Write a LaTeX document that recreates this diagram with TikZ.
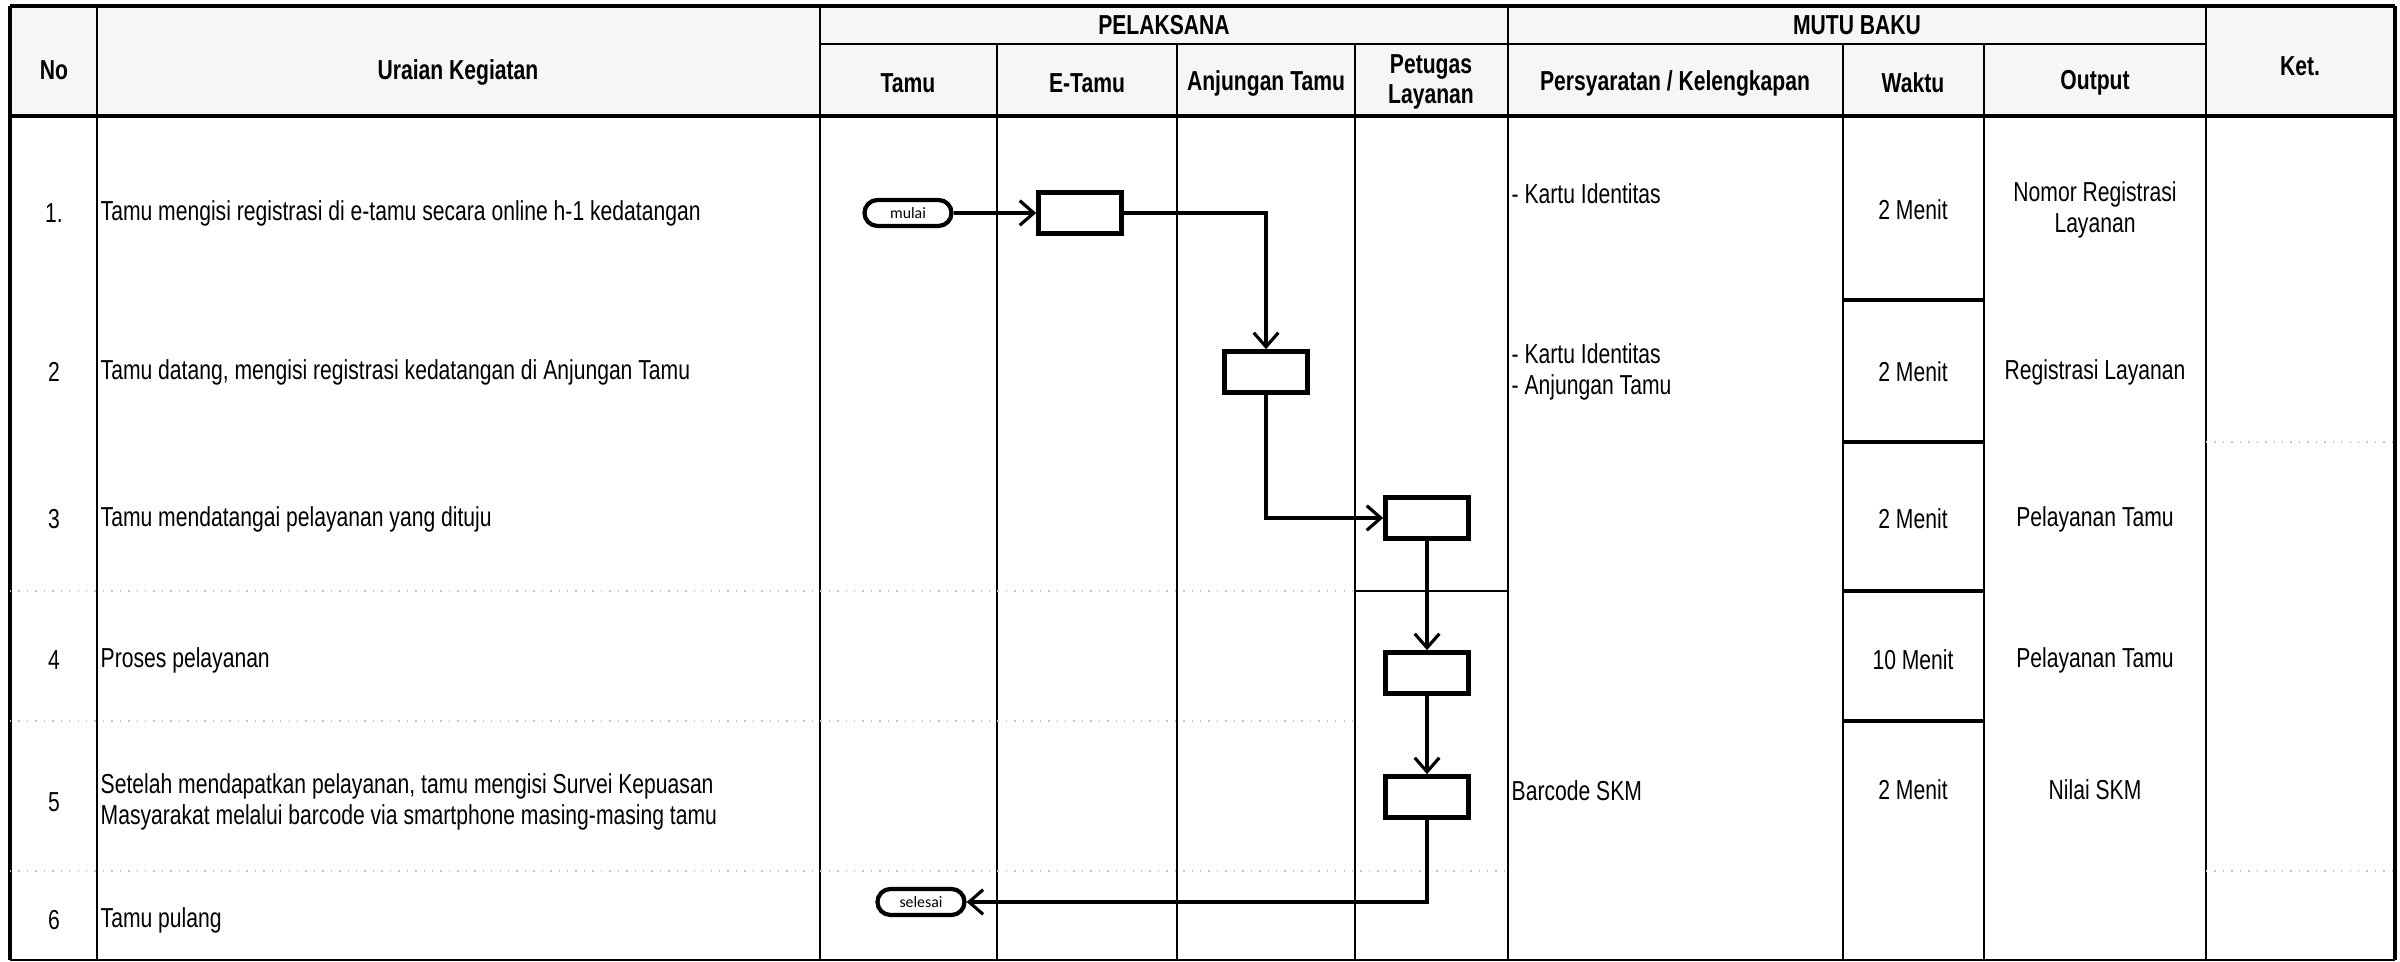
\documentclass[tikz,border=0pt]{standalone}
\usepackage{fontspec}
\setmainfont{Liberation Sans}[FakeStretch=0.77]
\newfontfamily\termfont{Carlito}
\usetikzlibrary{arrows.meta}
\tikzset{
    kotak/.style={draw, line width=1.3pt, minimum width=0.83cm, minimum height=0.41cm, inner sep=0pt},
    terminal/.style={draw, line width=1.2pt, rounded corners=0.13cm, minimum width=0.87cm, minimum height=0.26cm, inner sep=0pt, font=\termfont\fontsize{4.5}{5}\selectfont},
    alur/.style={line width=0.9pt, -{Straight Barb[length=4pt,width=7pt,line width=0.9pt]}},
    garis/.style={line width=0.7pt},
    titik/.style={gray!45, dotted, line width=0.4pt},
    kepala/.style={font=\fontsize{7.8}{8.6}\selectfont\bfseries, align=center},
    kiri/.style={anchor=west, inner xsep=0pt, align=left},
}
\begin{document}
\begin{tikzpicture}[x=0.01cm, y=-0.01cm, font=\fontsize{7.8}{8.6}\selectfont]
    \useasboundingbox[fill=white] (0,0) rectangle (2400,962);
    % kepala tabel
    \fill[gray!7] (10,6) rectangle (2395,116);
    \draw[line width=1.2pt] (10,6) -- (2395,6);
    \draw[line width=1.1pt] (10,116) -- (2395,116);
    \draw[garis] (820,44) -- (2206,44);
    \draw[line width=1.2pt] (10,6) -- (10,960);
    \draw[line width=1pt] (2395,6) -- (2395,960);
    \draw[garis] (10,960) -- (2395,960);
    \draw[garis] (97,6) -- (97,960) (820,6) -- (820,960) (1508,6) -- (1508,960) (2206,6) -- (2206,960);
    \draw[garis] (997,44) -- (997,960) (1177,44) -- (1177,960) (1355,44) -- (1355,960) (1843,44) -- (1843,960) (1984,44) -- (1984,960);
    % batas baris
    \draw[line width=1pt] (1843,300) -- (1984,300) (1843,442) -- (1984,442) (1843,591) -- (1984,591) (1843,721) -- (1984,721);
    \draw[garis] (1355,591) -- (1508,591);
    \draw[titik] (10,591) -- (1355,591) (10,721) -- (1355,721) (10,871) -- (1508,871) (2206,442) -- (2395,442) (2206,871) -- (2395,871);

    \node[kepala] at (54,70) {No};
    \node[kepala] at (458,72) {Uraian Kegiatan};
    \node[kepala] at (1164,25) {PELAKSANA};
    \node[kepala] at (1857,25) {MUTU BAKU};
    \node[kepala] at (2300,66) {Ket.};
    \node[kepala] at (908,83) {Tamu};
    \node[kepala] at (1087,83) {E-Tamu};
    \node[kepala] at (1266,83) {Anjungan Tamu};
    \node[kepala] at (1431,82) {Petugas\\Layanan};
    \node[kepala] at (1675,83) {Persyaratan / Kelengkapan};
    \node[kepala] at (1913,83) {Waktu};
    \node[kepala] at (2095,83) {Output};

    % nomor dan uraian
    \node at (54,213) {1.};
    \node at (54,372) {2};
    \node at (54,519) {3};
    \node at (54,660) {4};
    \node at (54,802) {5};
    \node at (54,920) {6};
    \node[kiri] at (100,213) {Tamu mengisi registrasi di e-tamu secara online h-1 kedatangan};
    \node[kiri] at (100,372) {Tamu datang, mengisi registrasi kedatangan di Anjungan Tamu};
    \node[kiri] at (100,519) {Tamu mendatangai pelayanan yang dituju};
    \node[kiri] at (100,660) {Proses pelayanan};
    \node[kiri] at (100,802) {Setelah mendapatkan pelayanan, tamu mengisi Survei Kepuasan\\Masyarakat melalui barcode via smartphone masing-masing tamu};
    \node[kiri] at (100,920) {Tamu pulang};

    % mutu baku
    \node[kiri] at (1511,194) {- Kartu Identitas};
    \node[kiri] at (1511,372) {- Kartu Identitas\\- Anjungan Tamu};
    \node[kiri] at (1511,791) {Barcode SKM};
    \node at (1913,210) {2 Menit};
    \node at (1913,372) {2 Menit};
    \node at (1913,519) {2 Menit};
    \node at (1913,660) {10 Menit};
    \node at (1913,790) {2 Menit};
    \node[align=center] at (2095,210) {Nomor Registrasi\\Layanan};
    \node at (2095,372) {Registrasi Layanan};
    \node at (2095,519) {Pelayanan Tamu};
    \node at (2095,660) {Pelayanan Tamu};
    \node at (2095,790) {Nilai SKM};

    % alur
    \node[terminal] (mulai) at (908,213) {mulai};
    \node[kotak] (k1) at (1080,213) {};
    \node[kotak] (k2) at (1266,372) {};
    \node[kotak] (k3) at (1427,518) {};
    \node[kotak] (k4) at (1427,673) {};
    \node[kotak] (k5) at (1427,797) {};
    \node[terminal] (selesai) at (921,902) {selesai};
    \draw[alur] (mulai) -- (k1);
    \draw[alur] (k1) -| (k2);
    \draw[alur] (k2) |- (k3);
    \draw[alur] (k3) -- (k4);
    \draw[alur] (k4) -- (k5);
    \draw[alur] (k5) |- (selesai);
\end{tikzpicture}
\end{document}
